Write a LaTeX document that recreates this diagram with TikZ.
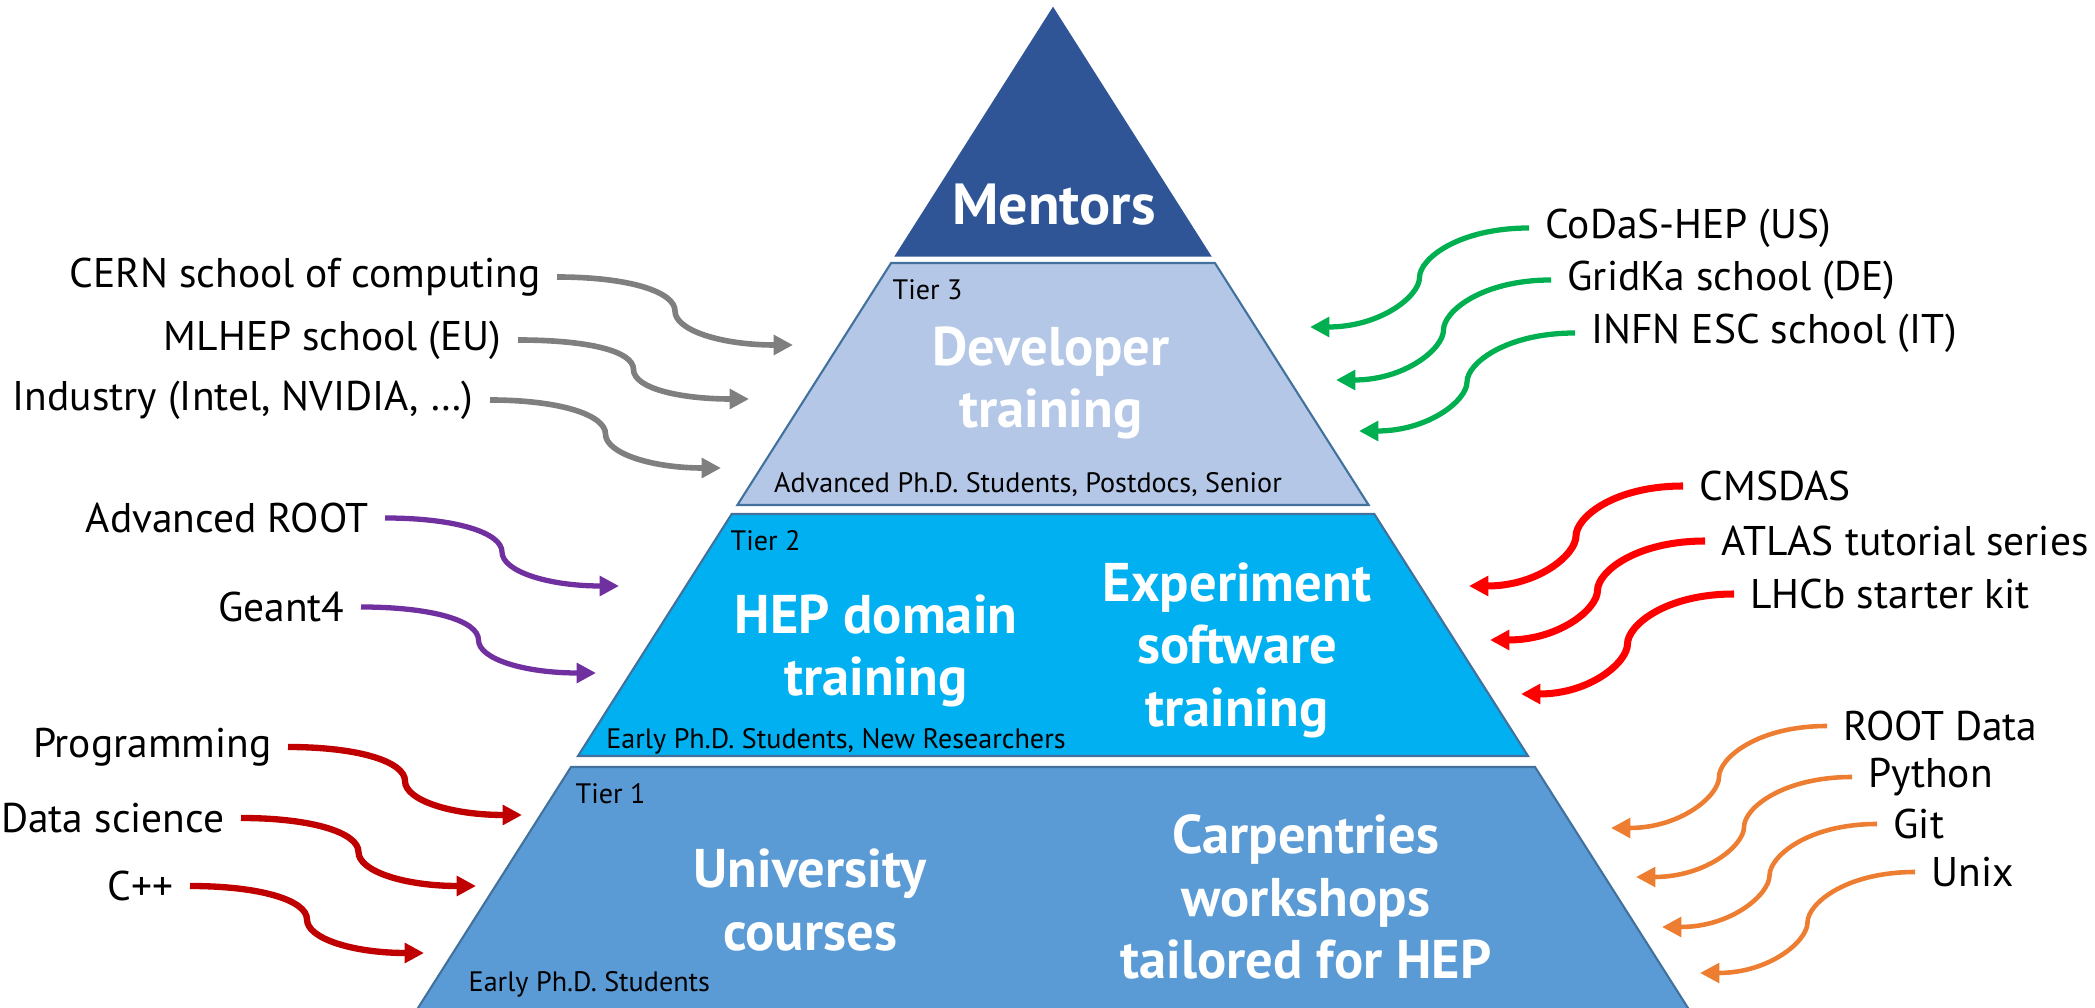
\documentclass[tikz,border=0pt]{standalone}
\usepackage{fontspec}
\setmainfont{PT Sans}
\usepackage{xcolor}
\usepackage{tikz}
\usetikzlibrary{calc, arrows.meta}

\definecolor{mentorblue}{HTML}{2F5597}
\definecolor{tierthree}{HTML}{B4C7E7}
\definecolor{tiertwo}{HTML}{00B0F0}
\definecolor{tierone}{HTML}{5B9BD5}
\definecolor{edgeblue}{HTML}{41719C}
\definecolor{arrowgray}{HTML}{7F7F7F}
\definecolor{arrowpurple}{HTML}{7030A0}
\definecolor{arrowdarkred}{HTML}{C00000}
\definecolor{arrowgreen}{HTML}{00B050}
\definecolor{arrowred}{HTML}{FF0000}
\definecolor{arroworange}{HTML}{ED7D31}

\tikzset{
	big/.style = {text = white, font = \bfseries\fontsize{15.5}{17.8}\selectfont, align = center},
	small/.style = {font = \fontsize{8}{9.5}\selectfont, inner sep = 0pt, anchor = west},
	side/.style = {font = \fontsize{11.8}{14}\selectfont, inner xsep = 4.5pt, inner ysep = 0pt},
	wave/.style = {line width = #1, -{Triangle[length = 5.5pt, width = 5.5pt]}},
	drop/.style = {out = #1, in = 90, out looseness = 1.5, in looseness = 0.4},
	land/.style = {out = -90, in = #1, out looseness = 0.4, in looseness = 1.5},
}

\begin{document}
\begin{tikzpicture}
	\useasboundingbox (0,0) rectangle (20.95,-10.08);
	
	% pyramid
	\filldraw [fill = mentorblue, draw = mentorblue] (10.53,-0.08) -- (12.105,-2.56) -- (8.955,-2.56) -- cycle;
	\filldraw [fill = tierthree, draw = edgeblue, line width = 0.6pt] (8.911,-2.63) -- (12.149,-2.63) -- (13.686,-5.05) -- (7.374,-5.05) -- cycle;
	\filldraw [fill = tiertwo, draw = edgeblue, line width = 0.6pt] (7.317,-5.14) -- (13.743,-5.14) -- (15.28,-7.56) -- (5.78,-7.56) -- cycle;
	\filldraw [fill = tierone, draw = edgeblue, line width = 0.6pt] (5.71,-7.67) -- (15.35,-7.67) -- (16.956,-10.2) -- (4.104,-10.2) -- cycle;
	
	\node [big, font = \bfseries\fontsize{16.5}{19}\selectfont] (mentors) at (10.54,-2.05) {Mentors};
	\node [big] (developer) at (10.51,-3.83) {Developer\\training};
	\node [small] (tier3) at (8.92,-2.90) {Tier 3};
	\node [small, anchor = center] (senior) at (10.28,-4.85) {Advanced Ph.D. Students, Postdocs, Senior};
	
	\node [big] (hep) at (8.76,-6.51) {HEP domain\\training};
	\node [big] (experiment) at (12.37,-6.50) {Experiment\\software\\training};
	\node [small] (tier2) at (7.30,-5.41) {Tier 2};
	\node [small, anchor = center] (early2) at (8.36,-7.41) {Early Ph.D. Students, New Researchers};
	
	\node [big] (university) at (8.10,-9.00) {University\\courses};
	\node [big] (carpentries) at (13.06,-8.97) {Carpentries\\workshops\\tailored for HEP};
	\node [small] (tier1) at (5.75,-7.94) {Tier 1};
	\node [small] (early1) at (4.68,-9.84) {Early Ph.D. Students};
	
	% left inputs
	\node [side, anchor = east] (cern) at (5.57,-2.77) {CERN school of computing};
	\node [side, anchor = east] (mlhep) at (5.18,-3.40) {MLHEP school (EU)};
	\node [side, anchor = east] (industry) at (4.90,-4.00) {Industry (Intel, NVIDIA, …)};
	\node [side, anchor = east] (aroot) at (3.85,-5.18) {Advanced ROOT};
	\node [side, anchor = east] (geant) at (3.61,-6.07) {Geant4};
	\node [side, anchor = east] (prog) at (2.88,-7.47) {Programming};
	\node [side, anchor = east] (datasci) at (2.41,-8.18) {Data science};
	\node [side, anchor = east] (cpp) at (1.90,-8.86) {C++};
	
	\coordinate (cerntip) at (7.93,-3.45);
	\coordinate (mlheptip) at (7.49,-3.99);
	\coordinate (industrytip) at (7.21,-4.68);
	\coordinate (aroottip) at (6.19,-5.86);
	\coordinate (geanttip) at (5.96,-6.73);
	\coordinate (progtip) at (5.22,-8.15);
	\coordinate (datascitip) at (4.76,-8.86);
	\coordinate (cpptip) at (4.24,-9.53);
	
	\draw [wave = 1.6pt, arrowgray] (cern.east) to [drop = 0] ($(cern.east)!0.5!(cerntip)$) to [land = 180] (cerntip);
	\draw [wave = 1.6pt, arrowgray] (mlhep.east) to [drop = 0] ($(mlhep.east)!0.5!(mlheptip)$) to [land = 180] (mlheptip);
	\draw [wave = 1.6pt, arrowgray] (industry.east) to [drop = 0] ($(industry.east)!0.5!(industrytip)$) to [land = 180] (industrytip);
	\draw [wave = 1.5pt, arrowpurple] (aroot.east) to [drop = 0] ($(aroot.east)!0.5!(aroottip)$) to [land = 180] (aroottip);
	\draw [wave = 1.5pt, arrowpurple] (geant.east) to [drop = 0] ($(geant.east)!0.5!(geanttip)$) to [land = 180] (geanttip);
	\draw [wave = 1.8pt, arrowdarkred] (prog.east) to [drop = 0] ($(prog.east)!0.5!(progtip)$) to [land = 180] (progtip);
	\draw [wave = 1.8pt, arrowdarkred] (datasci.east) to [drop = 0] ($(datasci.east)!0.5!(datascitip)$) to [land = 180] (datascitip);
	\draw [wave = 1.8pt, arrowdarkred] (cpp.east) to [drop = 0] ($(cpp.east)!0.5!(cpptip)$) to [land = 180] (cpptip);
	
	% right inputs
	\node [side, anchor = west] (codas) at (15.29,-2.28) {CoDaS-HEP (US)};
	\node [side, anchor = west] (gridka) at (15.51,-2.80) {GridKa school (DE)};
	\node [side, anchor = west] (infn) at (15.75,-3.33) {INFN ESC school (IT)};
	\node [side, anchor = west] (cmsdas) at (16.83,-4.86) {CMSDAS};
	\node [side, anchor = west] (atlas) at (17.05,-5.41) {ATLAS tutorial series};
	\node [side, anchor = west] (lhcb) at (17.34,-5.94) {LHCb starter kit};
	\node [side, anchor = west] (rootdata) at (18.27,-7.26) {ROOT Data};
	\node [side, anchor = west] (python) at (18.52,-7.77) {Python};
	\node [side, anchor = west] (git) at (18.77,-8.24) {Git};
	\node [side, anchor = west] (unix) at (19.15,-8.72) {Unix};
	
	\coordinate (codastip) at (13.10,-3.27);
	\coordinate (gridkatip) at (13.36,-3.80);
	\coordinate (infntip) at (13.59,-4.31);
	\coordinate (cmsdastip) at (14.69,-5.86);
	\coordinate (atlastip) at (14.90,-6.40);
	\coordinate (lhcbtip) at (15.21,-6.94);
	\coordinate (rootdatatip) at (16.11,-8.28);
	\coordinate (pythontip) at (16.36,-8.77);
	\coordinate (gittip) at (16.62,-9.27);
	\coordinate (unixtip) at (17.00,-9.73);
	
	\draw [wave = 1.5pt, arrowgreen] (codas.west) to [drop = 180] ($(codas.west)!0.5!(codastip)$) to [land = 0] (codastip);
	\draw [wave = 1.5pt, arrowgreen] (gridka.west) to [drop = 180] ($(gridka.west)!0.5!(gridkatip)$) to [land = 0] (gridkatip);
	\draw [wave = 1.5pt, arrowgreen] (infn.west) to [drop = 180] ($(infn.west)!0.5!(infntip)$) to [land = 0] (infntip);
	\draw [wave = 2pt, arrowred] (cmsdas.west) to [drop = 180] ($(cmsdas.west)!0.5!(cmsdastip)$) to [land = 0] (cmsdastip);
	\draw [wave = 2pt, arrowred] (atlas.west) to [drop = 180] ($(atlas.west)!0.5!(atlastip)$) to [land = 0] (atlastip);
	\draw [wave = 2pt, arrowred] (lhcb.west) to [drop = 180] ($(lhcb.west)!0.5!(lhcbtip)$) to [land = 0] (lhcbtip);
	\draw [wave = 1.3pt, arroworange] (rootdata.west) to [drop = 180] ($(rootdata.west)!0.5!(rootdatatip)$) to [land = 0] (rootdatatip);
	\draw [wave = 1.3pt, arroworange] (python.west) to [drop = 180] ($(python.west)!0.5!(pythontip)$) to [land = 0] (pythontip);
	\draw [wave = 1.3pt, arroworange] (git.west) to [drop = 180] ($(git.west)!0.5!(gittip)$) to [land = 0] (gittip);
	\draw [wave = 1.3pt, arroworange] (unix.west) to [drop = 180] ($(unix.west)!0.5!(unixtip)$) to [land = 0] (unixtip);
\end{tikzpicture}
\end{document}
